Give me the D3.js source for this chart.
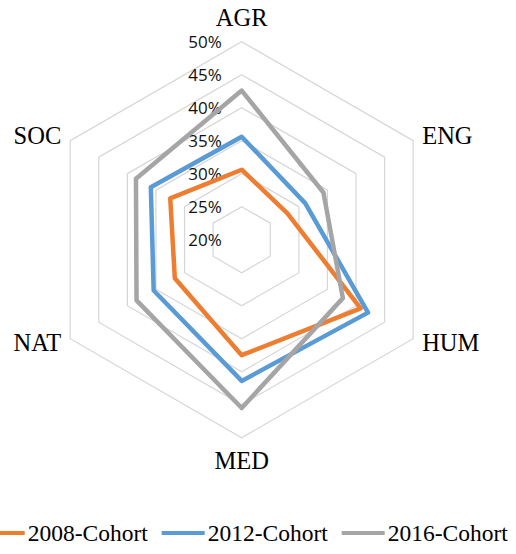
<!DOCTYPE html>
<html>
<head>
<meta charset="utf-8">
<script src="https://cdn.jsdelivr.net/npm/d3@7"></script>
<style>
  html, body { margin: 0; padding: 0; background: #fff; overflow: hidden; }
  svg { display: block; }
</style>
</head>
<body>
<svg id="chart" width="516" height="554"></svg>
<script>
// categories, clockwise from the top
const categories = ["AGR", "ENG", "HUM", "MED", "NAT", "SOC"];

// series values (share per field)
const cohort2008 = [0.306, 0.280, 0.408, 0.375, 0.317, 0.325];
const cohort2012 = [0.356, 0.311, 0.421, 0.414, 0.354, 0.359];
const cohort2016 = [0.426, 0.343, 0.377, 0.455, 0.384, 0.385];

const seriesNames = ["2008-Cohort", "2012-Cohort", "2016-Cohort"];
const seriesColors = ["#ED7D31", "#5B9BD5", "#A5A5A5"];

// radial tick labels
const ticks = [0.20, 0.25, 0.30, 0.35, 0.40, 0.45, 0.50];

const svg = d3.select("#chart");
const cx = 241.7, cy = 239.7, R = 198;

const r = d3.scaleLinear().domain([0.20, 0.50]).range([0, R]);
const angle = d3.scalePoint().domain(categories).range([0, 2 * Math.PI * 5 / 6]);

const g = svg.append("g").attr("transform", "translate(" + cx + "," + cy + ")");

// hexagon gridlines (no spokes)
const gridLine = d3.lineRadial()
    .angle(d => angle(d))
    .curve(d3.curveLinearClosed);

g.selectAll(".grid")
    .data(ticks.slice(1))
    .enter()
    .append("path")
    .attr("class", "grid")
    .attr("fill", "none")
    .attr("stroke", "#d6d6d6")
    .attr("stroke-width", 1.2)
    .attr("d", t => gridLine.radius(() => r(t))(categories));

// tick labels, left of the top axis
g.selectAll(".tick")
    .data(ticks)
    .enter()
    .append("text")
    .attr("class", "tick")
    .attr("x", -20)
    .attr("y", t => -r(t) + 2)
    .attr("text-anchor", "end")
    .attr("dominant-baseline", "middle")
    .attr("font-family", "'Open Sans', sans-serif")
    .attr("font-size", 17)
    .attr("fill", "#111")
    .text(d3.format(".0%"));

// series polygons
const series = [cohort2008, cohort2012, cohort2016];
const line = d3.lineRadial()
    .angle((d, i) => angle(categories[i]))
    .radius(d => r(d))
    .curve(d3.curveLinearClosed);

g.selectAll(".series")
    .data(series)
    .enter()
    .append("path")
    .attr("class", "series")
    .attr("fill", "none")
    .attr("stroke", (d, i) => seriesColors[i])
    .attr("stroke-width", 4.5)
    .attr("stroke-linejoin", "round")
    .attr("d", line);

// category labels around the outer hexagon
function labelPos(c) {
    let a = angle(c);
    let x = R * Math.sin(a), y = -R * Math.cos(a);
    if (Math.abs(x) < 1) {
        return { x: x, y: y < 0 ? y - 16 : y + 31, anchor: "middle" };
    }
    return {
        x: x > 0 ? x + 9 : x - 9,
        y: y < 0 ? y + 3.5 : y + 12,
        anchor: x > 0 ? "start" : "end"
    };
}

g.selectAll(".cat")
    .data(categories)
    .enter()
    .append("text")
    .attr("class", "cat")
    .attr("x", c => labelPos(c).x)
    .attr("y", c => labelPos(c).y)
    .attr("text-anchor", c => labelPos(c).anchor)
    .attr("font-family", "'Liberation Serif', 'Times New Roman', serif")
    .attr("font-size", 24.5)
    .attr("fill", "#000")
    .text(c => c);

// legend
const legend = svg.append("g").attr("transform", "translate(0,533)");
const items = legend.selectAll(".item")
    .data(seriesNames)
    .enter()
    .append("g")
    .attr("class", "item")
    .attr("transform", (d, i) => "translate(" + (-18.3 + i * 180) + ",0)");

items.append("line")
    .attr("x1", 0).attr("x2", 43)
    .attr("y1", 0).attr("y2", 0)
    .attr("stroke", (d, i) => seriesColors[i])
    .attr("stroke-width", 4);

items.append("text")
    .attr("x", 46)
    .attr("y", 8)
    .attr("font-family", "'Liberation Serif', 'Times New Roman', serif")
    .attr("font-size", 23.5)
    .attr("fill", "#000")
    .text(d => d);
</script>
</body>
</html>
